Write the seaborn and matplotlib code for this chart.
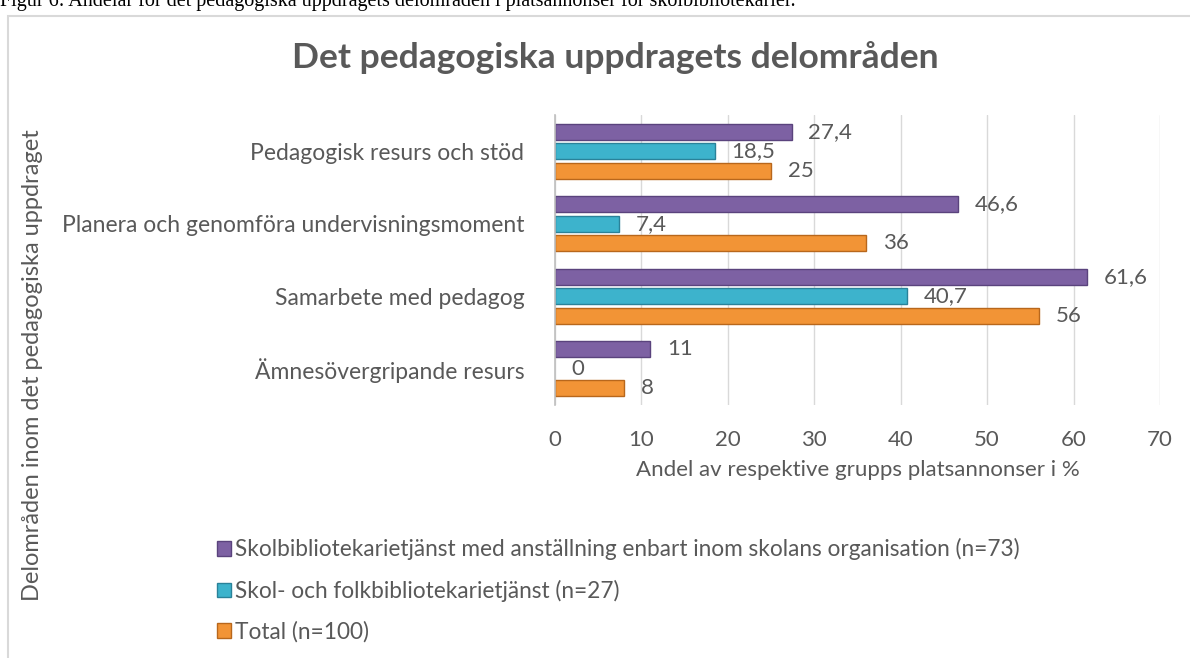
import matplotlib
matplotlib.use("Agg")
import matplotlib.pyplot as plt
import matplotlib.patches as mpatches
import pandas as pd
import seaborn as sns

# data
kategorier = [
    "Pedagogisk resurs och stöd",
    "Planera och genomföra undervisningsmoment",
    "Samarbete med pedagog",
    "Ämnesövergripande resurs",
]
grupper = [
    "Skolbibliotekarietjänst med anställning enbart inom skolans organisation (n=73)",
    "Skol- och folkbibliotekarietjänst (n=27)",
    "Total (n=100)",
]
skolbibliotek = [27.4, 46.6, 61.6, 11]
skol_och_folk = [18.5, 7.4, 40.7, 0]
total = [25, 36, 56, 8]

farger = ["#7D61A3", "#3DB3CC", "#F29436"]
kantfarger = ["#5A437D", "#2A8299", "#B8671C"]

rows = []
for grupp, values in zip(grupper, [skolbibliotek, skol_och_folk, total]):
    for kat, v in zip(kategorier, values):
        rows.append({"kategori": kat, "grupp": grupp, "andel": v})
df = pd.DataFrame(rows)

sns.set_theme(style="white")
plt.rcParams["font.family"] = ["Lato", "DejaVu Sans"]
textfarg = "#595959"

fig = plt.figure(figsize=(11.9, 6.58), dpi=100)
ax = fig.add_axes([555 / 1190, 1 - 405 / 658, 605 / 1190, 290 / 658])

sns.barplot(data=df, y="kategori", x="andel", hue="grupp", orient="h",
            order=kategorier, hue_order=grupper, palette=farger,
            width=0.8, gap=0.17, ax=ax, legend=False, errorbar=None,
            saturation=1)

for cont, kant in zip(ax.containers, kantfarger):
    for bar, v in zip(cont, cont.datavalues):
        bar.set_edgecolor(kant)
        bar.set_linewidth(1.0 if v > 0 else 0)
    labels = [f"{v:g}".replace(".", ",") for v in cont.datavalues]
    ax.bar_label(cont, labels=labels, padding=12, fontsize=16, color=textfarg)

ax.set_xlim(0, 70)
ax.set_xticks(range(0, 71, 10))
ax.xaxis.grid(True, color="#D9D9D9", linewidth=1)
ax.set_axisbelow(True)
for s in ["top", "right", "bottom"]:
    ax.spines[s].set_visible(False)
ax.spines["left"].set_color("#BFBFBF")
ax.spines["left"].set_linewidth(1.2)
ax.tick_params(axis="x", length=0, pad=18, labelsize=16, labelcolor=textfarg)
ax.tick_params(axis="y", length=0, pad=22, labelsize=16.5, labelcolor=textfarg)
ax.set_ylabel("")
ax.set_xlabel("Andel av respektive grupps platsannonser i %", fontsize=16,
              color=textfarg, labelpad=7)

fig.text(615 / 1190, 1 - 58 / 658, "Det pedagogiska uppdragets delområden",
         ha="center", va="center", fontsize=25.5, fontweight="bold", color=textfarg)

fig.text(33 / 1190, 1 - 365 / 658, "Delområden inom det pedagogiska uppdraget",
         rotation=90, ha="center", va="center", fontsize=17, color=textfarg)

handles = [mpatches.Patch(facecolor=f, edgecolor=k, linewidth=1) for f, k in zip(farger, kantfarger)]
fig.legend(handles, grupper, loc="upper left", bbox_to_anchor=(206 / 1190, 1 - 527 / 658),
           frameon=False, fontsize=16.3, labelcolor=textfarg, handlelength=0.6,
           handleheight=0.6, handletextpad=0.2, labelspacing=0.85, borderpad=0)

# figure caption from the document, partly cut off at the top
fig.text(0.0, 1 - 6 / 658,
         "Figur 6: Andelar för det pedagogiska uppdragets delområden i platsannonser för skolbibliotekarier.",
         ha="left", va="baseline", fontsize=14.5, family="Liberation Serif", color="black")

fig.patches.append(mpatches.Rectangle((8 / 1190, -0.1), 1.2, 1.1 - 16 / 658,
                                      transform=fig.transFigure, fill=False,
                                      edgecolor="#D9D9D9", linewidth=1.5))

fig.savefig("out.png", dpi=100)
